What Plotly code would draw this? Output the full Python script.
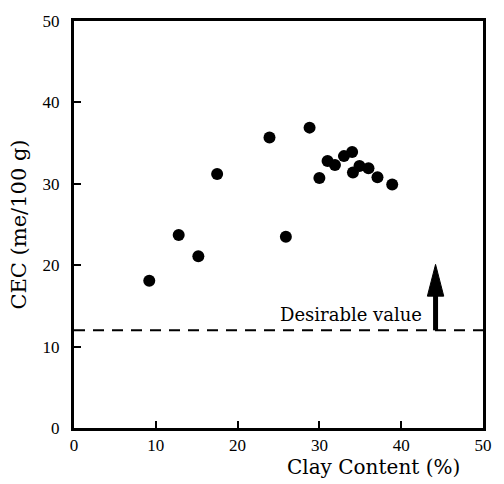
import plotly.graph_objects as go

# Clay content (%) and cation exchange capacity (me/100 g) of the soil samples
clay = [9.2, 12.8, 15.2, 17.5, 23.9, 25.9, 28.8, 30.0, 31.0, 31.9, 33.0, 34.0, 34.1, 34.9, 36.0, 37.1, 38.9]
cec = [18.1, 23.7, 21.1, 31.2, 35.7, 23.5, 36.9, 30.7, 32.8, 32.3, 33.4, 33.9, 31.4, 32.2, 31.9, 30.8, 29.9]

# Reference level and the arrow pointing towards higher CEC
desirable_cec = 12
arrow_x = 44.2
arrow_top = 20.1
label_text = "Desirable value"

x_ticks = [0, 10, 20, 30, 40, 50]
y_ticks = [0, 10, 20, 30, 40, 50]

SERIF = "Liberation Serif, Times New Roman, serif"
WIDE_SERIF = "DejaVu Serif, serif"

fig = go.Figure()
fig.add_trace(go.Scatter(
    x=clay, y=cec, mode="markers",
    marker=dict(color="black", size=12, line=dict(width=0)),
    showlegend=False, hoverinfo="skip",
))

# dashed desirable level
fig.add_shape(type="line", xref="x", yref="y",
              x0=0, x1=50, y0=desirable_cec, y1=desirable_cec,
              line=dict(color="black", width=2, dash="11px,8px"))

# arrow: shaft plus filled head, built from the arrow values
head_len = 3.9
head_half = 1.0
fig.add_shape(type="line", xref="x", yref="y",
              x0=arrow_x, x1=arrow_x, y0=desirable_cec, y1=arrow_top - head_len + 0.2,
              line=dict(color="black", width=5))
fig.add_shape(type="path", xref="x", yref="y",
              path=(f"M {arrow_x - head_half} {arrow_top - head_len} "
                    f"L {arrow_x} {arrow_top} "
                    f"L {arrow_x + head_half} {arrow_top - head_len} Z"),
              fillcolor="black", line=dict(color="black", width=1))

fig.add_annotation(x=arrow_x - 1.4, y=desirable_cec, xref="x", yref="y",
                   text=label_text, showarrow=False,
                   xanchor="right", yanchor="bottom", yshift=3,
                   font=dict(family=WIDE_SERIF, size=18, color="black"))

# x-axis title sits toward the right under the axis
fig.add_annotation(x=36.6, y=0, xref="x", yref="paper",
                   text="Clay Content (%)", showarrow=False,
                   xanchor="center", yanchor="top", yshift=-25,
                   font=dict(family=WIDE_SERIF, size=20, color="black"))

axis_common = dict(
    showline=True, linecolor="black", linewidth=3, mirror=True,
    ticks="inside", ticklen=7, tickwidth=2, tickcolor="black",
    showgrid=False, zeroline=False,
    tickfont=dict(family=SERIF, size=17, color="black"),
)

fig.update_xaxes(range=[0, 50], tickvals=x_ticks, ticktext=[str(v) for v in x_ticks],
                 **axis_common)
fig.update_yaxes(range=[0, 50], tickvals=y_ticks, ticktext=[str(v) for v in y_ticks],
                 ticklabelstandoff=8,
                 title=dict(text="CEC (me/100 g)", standoff=11,
                            font=dict(family=WIDE_SERIF, size=21, color="black")),
                 **axis_common)

fig.update_layout(
    width=504, height=484,
    margin=dict(l=74, r=15, t=13, b=56),
    plot_bgcolor="white", paper_bgcolor="white",
)

fig.write_html("out.html")
